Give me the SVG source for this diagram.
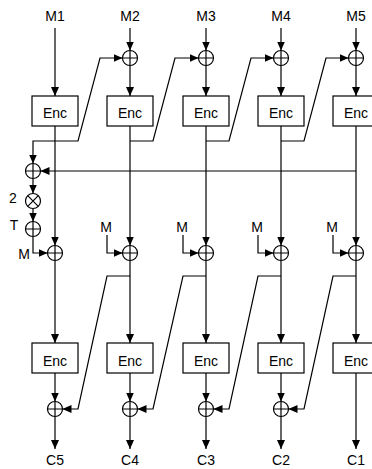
<svg xmlns="http://www.w3.org/2000/svg" width="372" height="469" viewBox="0 0 372 469">
<style>
text{font-family:"Liberation Sans",Arial,sans-serif;font-size:14px;fill:#000;text-anchor:middle}
.ln{fill:none;stroke:#000;stroke-width:1.2}
.ar{marker-end:url(#ah)}
.box{fill:#fff;stroke:#000;stroke-width:1.2}
.x{fill:#fff;stroke:#000;stroke-width:1.2}
</style>
<defs>
<marker id="ah" viewBox="0 0 9 8" refX="9" refY="4" markerWidth="9" markerHeight="8" orient="auto" markerUnits="userSpaceOnUse"><path d="M0,0 L9,4 L0,8 z" fill="#000"/></marker>
<g id="xor"><circle r="7.5" class="x"/><path d="M-7.5,0 H7.5 M0,-7.5 V7.5" class="ln"/></g>
<g id="mul"><circle r="7.5" class="x"/><path d="M-5.3,-5.3 L5.3,5.3 M-5.3,5.3 L5.3,-5.3" class="ln"/></g>
</defs>
<g id="connectors">
<path class="ln ar" d="M55,28 V96"/>
<path class="ln ar" d="M130,28 V50.5"/><path class="ln ar" d="M130,65.5 V96"/>
<path class="ln ar" d="M206,28 V50.5"/><path class="ln ar" d="M206,65.5 V96"/>
<path class="ln ar" d="M281,28 V50.5"/><path class="ln ar" d="M281,65.5 V96"/>
<path class="ln ar" d="M356,28 V50.5"/><path class="ln ar" d="M356,65.5 V96"/>
<path class="ln ar" d="M55,141 H78 L100,58 H122.5"/>
<path class="ln ar" d="M130,141 H153 L175,58 H198.5"/>
<path class="ln ar" d="M206,141 H229 L251,58 H273.5"/>
<path class="ln ar" d="M281,141 H304 L326,58 H348.5"/>
<path class="ln ar" d="M55,141 H33 V163.5"/>
<path class="ln ar" d="M55,126 V245.5"/>
<path class="ln ar" d="M130,126 V245.5"/>
<path class="ln ar" d="M206,126 V245.5"/>
<path class="ln ar" d="M281,126 V245.5"/>
<path class="ln ar" d="M356,126 V245.5"/>
<path class="ln ar" d="M356,171 H40.5"/>
<path class="ln ar" d="M33,178.5 V193.5"/>
<path class="ln ar" d="M33,208.5 V221.5"/>
<path class="ln ar" d="M33,236.5 V253 H47.5"/>
<path class="ln ar" d="M107,235 V253 H122.5"/>
<path class="ln ar" d="M183,235 V253 H198.5"/>
<path class="ln ar" d="M258,235 V253 H273.5"/>
<path class="ln ar" d="M333,235 V253 H348.5"/>
<path class="ln ar" d="M55,260.5 V343"/>
<path class="ln ar" d="M130,260.5 V343"/>
<path class="ln ar" d="M206,260.5 V343"/>
<path class="ln ar" d="M281,260.5 V343"/>
<path class="ln ar" d="M356,260.5 V343"/>
<path class="ln ar" d="M130,276 H107 L78,409 H62.5"/>
<path class="ln ar" d="M206,276 H183 L153,409 H137.5"/>
<path class="ln ar" d="M281,276 H258 L229,409 H213.5"/>
<path class="ln ar" d="M356,276 H333 L304,409 H288.5"/>
<path class="ln ar" d="M55,373 V401.5"/><path class="ln ar" d="M55,416.5 V449"/>
<path class="ln ar" d="M130,373 V401.5"/><path class="ln ar" d="M130,416.5 V449"/>
<path class="ln ar" d="M206,373 V401.5"/><path class="ln ar" d="M206,416.5 V449"/>
<path class="ln ar" d="M281,373 V401.5"/><path class="ln ar" d="M281,416.5 V449"/>
<path class="ln ar" d="M356,373 V449"/>
</g>
<g id="in-labels">
<text x="55" y="21">M1</text><text x="130" y="21">M2</text><text x="206" y="21">M3</text><text x="281" y="21">M4</text><text x="356" y="21">M5</text>
</g>
<g id="xor-top">
<use href="#xor" x="130" y="58"/><use href="#xor" x="206" y="58"/><use href="#xor" x="281" y="58"/><use href="#xor" x="356" y="58"/>
</g>
<g id="enc-top">
<rect class="box" x="32" y="96" width="46" height="30"/><text x="55" y="118">Enc</text>
<rect class="box" x="107" y="96" width="46" height="30"/><text x="130" y="118">Enc</text>
<rect class="box" x="183" y="96" width="46" height="30"/><text x="206" y="118">Enc</text>
<rect class="box" x="258" y="96" width="46" height="30"/><text x="281" y="118">Enc</text>
<rect class="box" x="333" y="96" width="46" height="30"/><text x="356" y="118">Enc</text>
</g>
<g id="sum-xor"><use href="#xor" x="33" y="171"/></g>
<g id="mul2"><use href="#mul" x="33" y="201"/><text x="13" y="203">2</text></g>
<g id="xorT"><use href="#xor" x="33" y="229"/><text x="14" y="230">T</text></g>
<g id="mid-xor">
<use href="#xor" x="55" y="253"/><text x="24" y="259">M</text>
<use href="#xor" x="130" y="253"/><text x="106" y="232">M</text>
<use href="#xor" x="206" y="253"/><text x="182" y="232">M</text>
<use href="#xor" x="281" y="253"/><text x="257" y="232">M</text>
<use href="#xor" x="356" y="253"/><text x="332" y="232">M</text>
</g>
<g id="enc-bottom">
<rect class="box" x="32" y="343" width="46" height="30"/><text x="55" y="366">Enc</text>
<rect class="box" x="107" y="343" width="46" height="30"/><text x="130" y="366">Enc</text>
<rect class="box" x="183" y="343" width="46" height="30"/><text x="206" y="366">Enc</text>
<rect class="box" x="258" y="343" width="46" height="30"/><text x="281" y="366">Enc</text>
<rect class="box" x="333" y="343" width="46" height="30"/><text x="356" y="366">Enc</text>
</g>
<g id="out-xor">
<use href="#xor" x="55" y="409"/><use href="#xor" x="130" y="409"/><use href="#xor" x="206" y="409"/><use href="#xor" x="281" y="409"/>
</g>
<g id="out-labels">
<text x="55" y="465">C5</text><text x="130" y="465">C4</text><text x="206" y="465">C3</text><text x="281" y="465">C2</text><text x="356" y="465">C1</text>
</g>
</svg>
